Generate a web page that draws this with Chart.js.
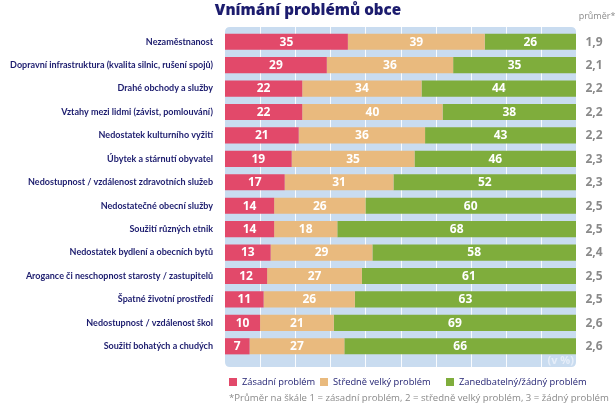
<!DOCTYPE html>
<html>
<head>
<meta charset="utf-8">
<script src="https://cdn.jsdelivr.net/npm/chart.js@4/dist/chart.umd.min.js"></script>
<style>
html,body{margin:0;padding:0;background:#fff;}
#wrap{width:616px;height:411px;position:relative;}
</style>
</head>
<body>
<div id="wrap"><canvas id="c" width="616" height="411"></canvas></div>
<script>
const categories = [
  "Nezaměstnanost",
  "Dopravní infrastruktura (kvalita silnic, rušení spojů)",
  "Drahé obchody a služby",
  "Vztahy mezi lidmi (závist, pomlouvání)",
  "Nedostatek kulturního vyžití",
  "Úbytek a stárnutí obyvatel",
  "Nedostupnost / vzdálenost zdravotních služeb",
  "Nedostatečné obecní služby",
  "Soužití různých etnik",
  "Nedostatek bydlení a obecních bytů",
  "Arogance či neschopnost starosty / zastupitelů",
  "Špatné životní prostředí",
  "Nedostupnost / vzdálenost škol",
  "Soužití bohatých a chudých"
];
const zasadni = [35,29,22,22,21,19,17,14,14,13,12,11,10,7];
const stredni = [39,36,34,40,36,35,31,26,18,29,27,26,21,27];
const zanedbatelny = [26,35,44,38,43,46,52,60,68,58,61,63,69,66];
const prumer = ["1,9","2,1","2,2","2,2","2,2","2,3","2,3","2,5","2,5","2,4","2,5","2,5","2,6","2,6"];
const seriesNames = ["Zásadní problém","Středně velký problém","Zanedbatelný/žádný problém"];
const xTicks = [0,10,20,30,40,50,60,70,80,90,100];

const COLORS = ["#e2496a","#e9ba7e","#7fad3c"];
const NAVY = "#1c1c6e";
const GRAY = "#8a8a8a";
const BG = "#c9dcf0";
const FONT = "'Open Sans', sans-serif";
const LFONT = "Lato, sans-serif";

function roundRect(ctx,x,y,w,h,r){
  ctx.beginPath();
  ctx.moveTo(x+r,y);
  ctx.lineTo(x+w-r,y);
  ctx.quadraticCurveTo(x+w,y,x+w,y+r);
  ctx.lineTo(x+w,y+h-r);
  ctx.quadraticCurveTo(x+w,y+h,x+w-r,y+h);
  ctx.lineTo(x+r,y+h);
  ctx.quadraticCurveTo(x,y+h,x,y+h-r);
  ctx.lineTo(x,y+r);
  ctx.quadraticCurveTo(x,y,x+r,y);
  ctx.closePath();
}

const decor = {
  id:'decor',
  beforeDatasetsDraw(chart){
    const ctx = chart.ctx, a = chart.chartArea, xs = chart.scales.x;
    const top = a.top-3, bot = a.bottom+9;
    ctx.save();
    ctx.fillStyle = BG;
    roundRect(ctx, a.left, top, a.right-a.left, bot-top, 5);
    ctx.fill();
    ctx.strokeStyle = "rgba(255,255,255,0.9)";
    ctx.lineWidth = 1;
    xTicks.slice(1,-1).forEach(v=>{
      const x = Math.round(xs.getPixelForValue(v))+0.5;
      ctx.beginPath(); ctx.moveTo(x, top); ctx.lineTo(x, bot); ctx.stroke();
    });
    ctx.restore();
  },
  afterDatasetsDraw(chart){
    const ctx = chart.ctx, a = chart.chartArea, ys = chart.scales.y;
    const bot = a.bottom+9;
    ctx.save();
    ctx.textAlign = "right"; ctx.textBaseline = "middle";
    ctx.fillStyle = "#e6eef9";
    ctx.font = "bold 11px " + FONT;
    ctx.fillText("(v %)", a.right-2, bot-6);

    ctx.font = "bold 12px " + FONT;
    ctx.fillStyle = "#fff";
    ctx.textAlign = "center";
    chart.data.datasets.forEach((ds,di)=>{
      const meta = chart.getDatasetMeta(di);
      meta.data.forEach((el,i)=>{
        const cx = (el.x + el.base)/2;
        ctx.fillText(String(ds.data[i]), cx, el.y+0.5);
      });
    });
    ctx.fillStyle = GRAY;
    ctx.font = "bold 12px " + FONT;
    prumer.forEach((p,i)=>{
      ctx.fillText(p, 594, ys.getPixelForValue(i)+0.5);
    });
    ctx.font = "9px " + FONT;
    ctx.fillText("průměr*", 597, 16);
    ctx.fillStyle = NAVY;
    ctx.font = "800 15.2px " + FONT;
    ctx.fillText("Vnímání problémů obce", 308, 11);
    ctx.font = "9.3px " + FONT;
    ctx.textAlign = "left";
    const lx = [229, 320, 446];
    seriesNames.forEach((n,i)=>{
      ctx.fillStyle = COLORS[i];
      ctx.fillRect(lx[i], 378, 8, 8);
      ctx.fillStyle = NAVY;
      ctx.fillText(n, lx[i]+13, 382.5);
    });
    ctx.fillStyle = GRAY;
    ctx.font = "9.6px " + FONT;
    ctx.fillText("*Průměr na škále 1 = zásadní problém, 2 = středně velký problém, 3 = žádný problém", 229, 398.5);
    ctx.restore();
  }
};

new Chart(document.getElementById('c'), {
  type:'bar',
  data:{
    labels: categories,
    datasets:[
      {label:seriesNames[0], data:zasadni, backgroundColor:COLORS[0]},
      {label:seriesNames[1], data:stredni, backgroundColor:COLORS[1]},
      {label:seriesNames[2], data:zanedbatelny, backgroundColor:COLORS[2]}
    ]
  },
  options:{
    indexAxis:'y',
    responsive:false,
    animation:false,
    events:[],
    layout:{padding:{top:30,bottom:53,right:40,left:0}},
    datasets:{bar:{barPercentage:0.69,categoryPercentage:1,borderWidth:0}},
    plugins:{legend:{display:false},tooltip:{enabled:false},title:{display:false}},
    scales:{
      x:{stacked:true,min:0,max:100,display:false},
      y:{stacked:true,
         grid:{display:false},
         border:{display:false},
         afterFit(s){ s.width = 225; },
         ticks:{color:NAVY,font:{family:LFONT,weight:'bold',size:9},padding:4,autoSkip:false}
      }
    }
  },
  plugins:[decor]
});
</script>
</body>
</html>
